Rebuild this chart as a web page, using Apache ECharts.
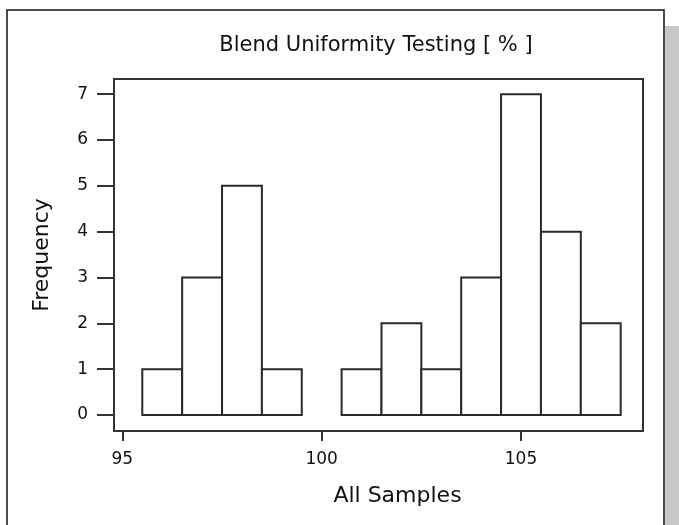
<!DOCTYPE html>
<html>
<head>
<meta charset="utf-8">
<script src="https://cdn.jsdelivr.net/npm/echarts@6/dist/echarts.min.js"></script>
<style>
html,body{margin:0;padding:0;background:#fff;}
#chart{width:679px;height:525px;}
</style>
</head>
<body>
<div id="chart"></div>
<script>
// Histogram bins (left/right edges) and frequencies
var binLeft  = [95.5, 96.5, 97.5, 98.5, 99.5, 100.5, 101.5, 102.5, 103.5, 104.5, 105.5, 106.5];
var binRight = [96.5, 97.5, 98.5, 99.5, 100.5, 101.5, 102.5, 103.5, 104.5, 105.5, 106.5, 107.5];
var counts   = [1, 3, 5, 1, 0, 1, 2, 1, 3, 7, 4, 2];
var xTicks = [95, 100, 105];
var yTicks = [0, 1, 2, 3, 4, 5, 6, 7];
var titleText = 'Blend Uniformity Testing [ % ]';
var xName = 'All Samples';
var yName = 'Frequency';

var data = binLeft.map(function (l, i) { return [l, binRight[i], counts[i]]; });

var FONT = 'DejaVu Sans';
var TXT = '#111111';
var LINE = '#333333';

var chart = echarts.init(document.getElementById('chart'), null, {renderer: 'canvas'});
chart.setOption({
  backgroundColor: '#ffffff',
  animation: false,
  title: {
    text: titleText,
    left: 371,
    top: 30,
    textAlign: 'center',
    textStyle: {fontFamily: FONT, fontSize: 21, fontWeight: 'normal', color: TXT}
  },
  graphic: [
    {type: 'rect', shape: {x: 665, y: 26, width: 14, height: 499}, style: {fill: '#c8c8c8'}, z: 0, silent: true},
    {type: 'rect', shape: {x: 7, y: 10, width: 657, height: 600}, style: {fill: 'none', stroke: '#111', lineWidth: 1.5}, z: 0, silent: true}
  ],
  grid: {
    left: 114, top: 79, width: 529, height: 352,
    show: true, borderColor: LINE, borderWidth: 2, backgroundColor: 'transparent'
  },
  xAxis: {
    type: 'value',
    min: 94.79, max: 108.06,
    name: xName,
    nameLocation: 'middle',
    nameGap: 54,
    nameTextStyle: {fontFamily: FONT, fontSize: 22, color: TXT, padding: [0, 0, 0, 38]},
    axisLine: {show: false, onZero: false},
    splitLine: {show: false},
    axisTick: {show: true, customValues: xTicks, length: 10, inside: false, lineStyle: {color: LINE, width: 2}},
    axisLabel: {customValues: xTicks, fontFamily: FONT, fontSize: 17, color: TXT, margin: 20}
  },
  yAxis: {
    type: 'value',
    min: -0.35, max: 7.33,
    name: yName,
    nameLocation: 'middle',
    nameGap: 61,
    nameTextStyle: {fontFamily: FONT, fontSize: 22, color: TXT},
    axisLine: {show: false, onZero: false},
    splitLine: {show: false},
    axisTick: {show: true, customValues: yTicks, length: 17, inside: false, lineStyle: {color: LINE, width: 2}},
    axisLabel: {customValues: yTicks, fontFamily: FONT, fontSize: 17, color: TXT, margin: 26}
  },
  series: [{
    type: 'custom',
    data: data,
    encode: {x: [0, 1], y: 2},
    renderItem: function (params, api) {
      var c = api.value(2);
      if (!c) return null;
      var p0 = api.coord([api.value(0), 0]);
      var p1 = api.coord([api.value(1), c]);
      return {
        type: 'rect',
        shape: {x: p0[0], y: p1[1], width: p1[0] - p0[0], height: p0[1] - p1[1]},
        style: {fill: '#ffffff', stroke: '#2a2a2a', lineWidth: 2}
      };
    }
  }]
});
</script>
</body>
</html>
